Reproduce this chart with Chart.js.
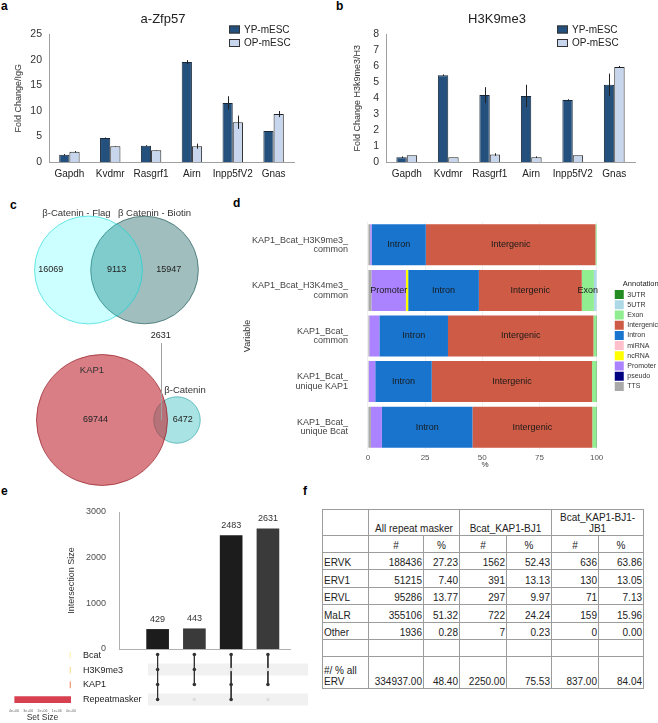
<!DOCTYPE html>
<html><head><meta charset="utf-8">
<script src="https://cdn.jsdelivr.net/npm/chart.js@4.4.0/dist/chart.umd.min.js"></script>
<style>
html,body{margin:0;padding:0;background:#fff;overflow:hidden;width:658px;height:723px;}
#wrap{position:relative;width:658px;height:723px;overflow:hidden;font-family:"Liberation Sans",Arial,sans-serif;}
.pl{position:absolute;font-weight:bold;font-size:12px;line-height:12px;color:#000;}
canvas{position:absolute;}
#tbl{position:absolute;left:322px;top:509px;width:322px;border-collapse:collapse;table-layout:fixed;font:10px "Liberation Sans",Arial,sans-serif;color:#222;}
#tbl td{border:1px solid #9c9c9c;padding:0 1px 1px 1px;vertical-align:bottom;line-height:11px;overflow:hidden;white-space:pre-line;}
#tbl td.n{text-align:right;}
#tbl td.c{text-align:center;}
#tbl td.l{text-align:left;}
</style></head>
<body><div id="wrap">
<div class="pl" style="left:1px;top:0px">a</div>
<div class="pl" style="left:336px;top:0px">b</div>
<div class="pl" style="left:10px;top:199px">c</div>
<div class="pl" style="left:233px;top:197px">d</div>
<div class="pl" style="left:1px;top:485px">e</div>
<div class="pl" style="left:303px;top:485px">f</div>
<table id="tbl"></table>
</div>
<script>
// ---------- DATA ----------
const genes = ['Gapdh','Kvdmr','Rasgrf1','Airn','Inpp5fV2','Gnas'];
const zfpYP = [1.4, 4.7, 3.2, 19.6, 11.6, 6.1];
const zfpOP = [2.0, 3.1, 2.3, 3.1, 7.8, 9.4];
const zfpYPErr = [0.15, 0.1, 0.1, 0.4, 1.3, 0.0];
const zfpOPErr = [0.15, 0.05, 0.05, 0.5, 1.3, 0.6];
const k9YP = [0.3, 5.45, 4.2, 4.15, 3.9, 4.85];
const k9OP = [0.42, 0.3, 0.47, 0.3, 0.42, 5.97];
const k9YPErr = [0.05, 0.05, 0.5, 0.7, 0.04, 0.7];
const k9OPErr = [0.0, 0.0, 0.08, 0.05, 0.0, 0.06];

const vennTopSets = ['β-Catenin - Flag', 'β Catenin - Biotin'];
const vennTopOnly = [16069, 15947];
const vennTopBoth = 9113;
const vennBotSets = ['KAP1', 'β-Catenin'];
const vennBotOnly = [69744, 6472];
const vennBotBoth = 2631;

const annoRows = [['KAP1_Bcat_H3K9me3_','common'],['KAP1_Bcat_H3K4me3_','common'],['KAP1_Bcat_','common'],['KAP1_Bcat_','unique KAP1'],['KAP1_Bcat_','unique Bcat']];
const annoClasses = ['3UTR','5UTR','Exon','Intergenic','Intron','miRNA','ncRNA','Promoter','pseudo','TTS'];
const pctTTS        = [1.0, 1.5, 0.6, 0.4, 1.3];
const pctPseudo     = [0, 0, 0, 0, 0];
const pctPromoter   = [0.7, 15.1, 4.4, 2.8, 4.8];
const pctNcRNA      = [0, 1.0, 0, 0, 0];
const pctMiRNA      = [0, 0, 0, 0, 0];
const pctIntron     = [23.6, 30.9, 30.0, 24.7, 39.6];
const pctIntergenic = [74.2, 45.0, 63.6, 70.1, 52.4];
const pctExon       = [0.5, 5.3, 1.2, 1.8, 1.7];
const pct5UTR       = [0, 1.2, 0, 0, 0];
const pct3UTR       = [0, 0, 0.2, 0.2, 0.2];
const annoTicks = [0, 25, 50, 75, 100];

const setNames = ['Bcat','H3K9me3','KAP1','Repeatmasker'];
const setSizes = [9103, 30000, 72375, 3950000];
const interSizes = [429, 443, 2483, 2631];
const inBcat    = [1,1,1,1];
const inH3K9me3 = [1,1,0,0];
const inKAP1    = [1,1,1,1];
const inRepeat  = [1,0,1,0];
const upsetTicks = [0, 1000, 2000, 3000];
const setSizeTicks = [0, 1e6, 2e6, 3e6, 4e6];

const tableGroups = ['All repeat masker','Bcat_KAP1-BJ1','Bcat_KAP1-BJ1-\nJB1'];
const repFamilies = ['ERVK','ERV1','ERVL','MaLR','Other'];
const allCount = [188436, 51215, 95286, 355106, 1936];
const allPct   = [27.23, 7.40, 13.77, 51.32, 0.28];
const bj1Count = [1562, 391, 297, 722, 7];
const bj1Pct   = [52.43, 13.13, 9.97, 24.24, 0.23];
const jb1Count = [636, 130, 71, 159, 0];
const jb1Pct   = [63.86, 13.05, 7.13, 15.96, 0.00];
const ervLabel = '#/ % all\nERV';
const ervTotal = [334937, 2250, 837];
const ervPct   = [48.40, 75.53, 84.04];

// ---------- SETUP ----------
const FONT = '"Liberation Sans", Arial, sans-serif';
Chart.defaults.font.family = FONT;
Chart.defaults.color = '#333';
Chart.defaults.animation = false;
Chart.defaults.responsive = false;
Chart.defaults.events = [];
Chart.defaults.plugins.legend.display = false;
Chart.defaults.plugins.tooltip.enabled = false;

function mkCanvas(left, top, w, h) {
  const c = document.createElement('canvas');
  c.width = w; c.height = h;
  c.style.left = left + 'px'; c.style.top = top + 'px';
  c.style.width = w + 'px'; c.style.height = h + 'px';
  document.getElementById('wrap').appendChild(c);
  return c;
}
const plain = v => String(v);

const errorBarPlugin = {
  id: 'errorBars',
  afterDatasetsDraw(chart) {
    const ctx = chart.ctx, ys = chart.scales.y;
    chart.data.datasets.forEach((ds, di) => {
      if (!ds.errors) return;
      chart.getDatasetMeta(di).data.forEach((el, i) => {
        const v = ds.data[i], e = ds.errors[i];
        if (!e) return;
        const x = Math.round(el.x) + 0.5;
        ctx.save(); ctx.strokeStyle = '#222'; ctx.lineWidth = 1;
        ctx.beginPath(); ctx.moveTo(x, ys.getPixelForValue(v + e)); ctx.lineTo(x, ys.getPixelForValue(v - e)); ctx.stroke();
        ctx.restore();
      });
    });
  }
};

const boxLegendPlugin = {
  id: 'boxLegend',
  afterDraw(chart, args, opts) {
    if (!opts || opts.x == null) return;
    const ctx = chart.ctx;
    chart.data.datasets.forEach((ds, i) => {
      const x = opts.x, y = opts.y + i * opts.gap;
      ctx.save();
      ctx.fillStyle = ds.backgroundColor; ctx.fillRect(x, y, 11, 8);
      ctx.strokeStyle = '#333'; ctx.lineWidth = 1; ctx.strokeRect(x + 0.5, y + 0.5, 10, 7);
      ctx.fillStyle = '#222'; ctx.font = '10px ' + FONT; ctx.textBaseline = 'middle';
      ctx.fillText(ds.label, x + 15, y + 4.5);
      ctx.restore();
    });
  }
};

function groupChart(canvas, o) {
  return new Chart(canvas, {
    type: 'bar',
    data: { labels: genes, datasets: [
      { label: 'YP-mESC', data: o.yp, errors: o.ypErr, backgroundColor: '#24507d', borderColor: '#17283a', borderWidth: 1 },
      { label: 'OP-mESC', data: o.op, errors: o.opErr, backgroundColor: '#c7d6ec', borderColor: '#222', borderWidth: 1 }
    ]},
    options: {
      layout: { padding: 0 },
      datasets: { bar: { categoryPercentage: 0.5, barPercentage: 1.0 } },
      plugins: {
        title: { display: true, text: o.title, font: { size: 13, weight: 'normal' }, color: '#222', padding: { top: 12, bottom: 7 } },
        boxLegend: o.legend
      },
      scales: {
        x: { grid: { display: false, drawTicks: false }, border: { color: '#a0a0a0' },
             ticks: { font: { size: 10 }, color: '#222', padding: 6, maxRotation: 0, autoSkip: false },
             afterFit: s => { s.height = 20; } },
        y: { min: 0, max: o.max, ticks: { stepSize: o.step, font: { size: 10.5 }, color: '#333', padding: 7, callback: plain },
             grid: { display: false, drawTicks: false }, border: { color: '#a0a0a0' },
             title: { display: true, text: o.yTitle, font: { size: 9 }, color: '#333', padding: { top: o.ytPad, bottom: 0 } },
             afterFit: s => { s.width = o.yw; } },
        yR: { position: 'right', grid: { display: false, drawTicks: false }, border: { display: false },
              ticks: { display: false }, afterFit: s => { s.width = o.rw; } }
      }
    },
    plugins: [errorBarPlugin, boxLegendPlugin]
  });
}

// ---------- PANEL a ----------
groupChart(mkCanvas(0, 0, 326, 182), {
  yp: zfpYP, op: zfpOP, ypErr: zfpYPErr, opErr: zfpOPErr, title: 'a-Zfp57', yTitle: 'Fold Change/IgG',
  max: 25, step: 5, yw: 49, rw: 32, ytPad: 13.6, legend: { x: 229, y: 25.5, gap: 13.5 }
});
// ---------- PANEL b ----------
groupChart(mkCanvas(336, 0, 322, 182), {
  yp: k9YP, op: k9OP, ypErr: k9YPErr, opErr: k9OPErr, title: 'H3K9me3', yTitle: 'Fold Change H3k9me3/H3',
  max: 8, step: 1, yw: 50, rw: 23, ytPad: 16.6, legend: { x: 221, y: 25.5, gap: 13.5 }
});

// ---------- PANEL c (Venn) ----------
function vennLayout(sets, only, both, L) {
  const r1 = L.k * Math.sqrt(only[0] + both), r2 = L.k * Math.sqrt(only[1] + both);
  const d = L.sep * (r1 + r2);
  return { sets, only, both, r1, r2, x1: L.cx - d / 2, x2: L.cx + d / 2, cy: L.cy, L };
}
const vTop = vennLayout(vennTopSets, vennTopOnly, vennTopBoth, { cx: 116.5, cy: 75, k: 0.34, sep: 0.52,
  fills: ['rgba(0,255,255,0.2)', 'rgba(47,110,110,0.45)'], borders: ['rgba(0,210,210,0.55)', 'rgba(40,95,95,0.7)'] });
const vBot = vennLayout(vennBotSets, vennBotOnly, vennBotBoth, { cx: 139.5, cy: 225, k: 0.2435, sep: 0.845,
  fills: ['rgba(190,40,50,0.6)', 'rgba(64,192,192,0.45)'], borders: ['rgba(150,30,40,0.7)', 'rgba(60,170,170,0.7)'] });

function vennDatasets(v) {
  return [
    { data: [{ x: v.x1, y: v.cy, r: v.r1 }], backgroundColor: v.L.fills[0], borderColor: v.L.borders[0], borderWidth: 1, clip: false },
    { data: [{ x: v.x2, y: v.cy, r: v.r2 }], backgroundColor: v.L.fills[1], borderColor: v.L.borders[1], borderWidth: 1, clip: false }
  ];
}
const vennTextPlugin = {
  id: 'vennText',
  afterDatasetsDraw(chart) {
    const ctx = chart.ctx, xs = chart.scales.x, ys = chart.scales.y;
    const px = v => xs.getPixelForValue(v), py = v => ys.getPixelForValue(v);
    function txt(t, x, y, size, color) {
      ctx.save(); ctx.font = size + 'px ' + FONT; ctx.fillStyle = color; ctx.textAlign = 'center'; ctx.textBaseline = 'middle';
      ctx.fillText(t, px(x), py(y)); ctx.restore();
    }
    const ovTop = ((vTop.x2 - vTop.r2) + (vTop.x1 + vTop.r1)) / 2;
    txt(vTop.sets[0], vTop.x1 - 12, vTop.cy - vTop.r1 - 3, 9.5, '#333');
    txt(vTop.sets[1], vTop.x2 + 10, vTop.cy - vTop.r2 - 3, 9.5, '#333');
    txt(String(vTop.only[0]), vTop.x1 - 0.7 * vTop.r1, vTop.cy, 9, '#222');
    txt(String(vTop.both), ovTop, vTop.cy, 9, '#222');
    txt(String(vTop.only[1]), vTop.x2 + 0.45 * vTop.r2, vTop.cy, 9, '#222');

    const ovBot = ((vBot.x2 - vBot.r2) + (vBot.x1 + vBot.r1)) / 2;
    txt(vBot.sets[0], vBot.x1 - 10, vBot.cy - vBot.r1 + 16, 9.5, '#333');
    txt(vBot.sets[1], vBot.x2 + 8, vBot.cy - vBot.r2 - 6, 9.5, '#333');
    txt(String(vBot.only[0]), vBot.x1 - 0.1 * vBot.r1, vBot.cy, 9, '#222');
    txt(String(vBot.only[1]), vBot.x2 + 0.25 * vBot.r2, vBot.cy, 9, '#222');
    txt(String(vBot.both), ovBot, vBot.cy - 84, 9, '#222');
    ctx.save(); ctx.strokeStyle = '#a0a0a0'; ctx.lineWidth = 1;
    ctx.beginPath(); ctx.moveTo(Math.round(px(ovBot)) + 0.5, py(vBot.cy - 77)); ctx.lineTo(Math.round(px(ovBot)) + 0.5, py(vBot.cy)); ctx.stroke();
    ctx.restore();
  }
};
new Chart(mkCanvas(0, 195, 220, 300), {
  type: 'bubble',
  data: { datasets: [...vennDatasets(vTop), ...vennDatasets(vBot)] },
  options: {
    layout: { padding: 0, autoPadding: false },
    elements: { point: { hoverRadius: 0 } },
    scales: {
      x: { type: 'linear', min: 0, max: 220, display: false, offset: false },
      y: { type: 'linear', min: 0, max: 300, reverse: true, display: false, offset: false }
    }
  },
  plugins: [vennTextPlugin]
});

// ---------- PANEL d ----------
const annoColors = { '3UTR': '#228b22', '5UTR': '#add8e6', 'Exon': '#90ee90', 'Intergenic': '#cd5b45', 'Intron': '#1874cd',
  'miRNA': '#ffc0cb', 'ncRNA': '#ffff00', 'Promoter': '#ab82ff', 'pseudo': '#000080', 'TTS': '#a9a9a9' };
const annoData = { 'TTS': pctTTS, 'pseudo': pctPseudo, 'Promoter': pctPromoter, 'ncRNA': pctNcRNA, 'miRNA': pctMiRNA,
  'Intron': pctIntron, 'Intergenic': pctIntergenic, 'Exon': pctExon, '5UTR': pct5UTR, '3UTR': pct3UTR };
const stackOrder = annoClasses.slice().reverse();
const segLabelMin = 5;
const segLabelPlugin = {
  id: 'segLabels',
  afterDatasetsDraw(chart) {
    const ctx = chart.ctx;
    ctx.save(); ctx.font = '9px ' + FONT; ctx.fillStyle = '#1a1a1a'; ctx.textAlign = 'center'; ctx.textBaseline = 'middle';
    chart.data.datasets.forEach((ds, di) => {
      chart.getDatasetMeta(di).data.forEach((el, i) => {
        if (ds.data[i] >= segLabelMin) ctx.fillText(ds.label, (el.x + el.base) / 2, el.y);
      });
    });
    ctx.restore();
  }
};
new Chart(mkCanvas(220, 200, 448, 275), {
  type: 'bar',
  data: { labels: annoRows, datasets: stackOrder.map(n => ({ label: n, data: annoData[n], backgroundColor: annoColors[n],
    borderWidth: 0, barPercentage: 0.9, categoryPercentage: 1 })) },
  options: {
    indexAxis: 'y',
    layout: { padding: { top: 22 } },
    plugins: {
      legend: { display: true, position: 'right', align: 'center', fullSize: false,
        labels: { boxWidth: 9, boxHeight: 9, padding: 1.2, font: { size: 7 }, color: '#333',
          sort: (a, b) => annoClasses.indexOf(a.text) - annoClasses.indexOf(b.text) },
        title: { display: true, text: 'Annotation', font: { size: 7.5 }, color: '#222', padding: 0 } }
    },
    scales: {
      x: { stacked: true, min: -5, max: 107.4,
           afterBuildTicks: a => { a.ticks = annoTicks.map(v => ({ value: v })); },
           grid: { color: '#f0f0f0', drawTicks: false }, border: { display: false },
           ticks: { font: { size: 8 }, color: '#555', padding: 3 },
           title: { display: true, text: '%', font: { size: 8 }, color: '#333', padding: { top: 0, bottom: 5 } },
           afterFit: s => { s.height = 25; } },
      y: { stacked: true, grid: { display: false, drawTicks: false }, border: { display: false },
           ticks: { font: { size: 9, lineHeight: 1.05 }, color: '#444', padding: 8.5, autoSkip: false },
           title: { display: true, text: 'Variable', font: { size: 9 }, color: '#333', padding: { top: 22, bottom: 0 } },
           afterFit: s => { s.width = 136.5; } }
    }
  },
  plugins: [segLabelPlugin]
});

// ---------- PANEL e (UpSet) ----------
const barLabelPlugin = {
  id: 'barLabels',
  afterDatasetsDraw(chart) {
    const ctx = chart.ctx;
    ctx.save(); ctx.font = '9px ' + FONT; ctx.fillStyle = '#333'; ctx.textAlign = 'center'; ctx.textBaseline = 'middle';
    chart.getDatasetMeta(0).data.forEach((el, i) => ctx.fillText(String(interSizes[i]), el.x, el.y - 10));
    ctx.restore();
  }
};
new Chart(mkCanvas(60, 495, 240, 160), {
  type: 'bar',
  data: { datasets: [{ data: interSizes.map((v, i) => ({ x: i, y: v })), backgroundColor: ['#1c1c1c', '#3a3a3a', '#1c1c1c', '#3a3a3a'],
    barThickness: 22 }] },
  options: {
    layout: { padding: { top: 17, right: 10, bottom: 6 }, autoPadding: false },
    scales: {
      x: { type: 'linear', offset: false, min: -1.05, max: 3.6, grid: { display: false, drawTicks: false }, ticks: { display: false },
           border: { display: true, color: '#b0b0b0' }, afterFit: s => { s.height = 0; } },
      y: { min: 0, max: 3000, afterBuildTicks: a => { a.ticks = upsetTicks.map(v => ({ value: v })); },
           grid: { display: false, drawTicks: true, tickLength: 13 }, border: { color: '#b0b0b0' },
           ticks: { font: { size: 9, lineHeight: 0.2 }, color: '#4d4d4d', padding: 0, callback: plain },
           title: { display: true, text: 'Intersection Size', font: { size: 9 }, color: '#333', padding: { top: 6.6, bottom: 0 } },
           afterFit: s => { s.width = 59; } }
    }
  },
  plugins: [barLabelPlugin]
});

const memberRows = [inBcat, inH3K9me3, inKAP1, inRepeat];
const filledDots = [], emptyDots = [];
interSizes.forEach((_, i) => memberRows.forEach((row, s) => (row[i] ? filledDots : emptyDots).push({ x: i, y: s })));
const lineSets = interSizes.map((_, i) => {
  const idx = memberRows.map((r, s) => r[i] ? s : -1).filter(s => s >= 0);
  return { data: [{ x: i, y: Math.min(...idx) }, { x: i, y: Math.max(...idx) }], showLine: true, borderColor: '#333',
    borderWidth: 1, pointRadius: 0 };
});
const stripeRows = [1, 3];
const stripePlugin = {
  id: 'stripes',
  beforeDatasetsDraw(chart) {
    const ctx = chart.ctx, a = chart.chartArea, ys = chart.scales.y;
    ctx.save(); ctx.fillStyle = '#f1f1f1';
    stripeRows.forEach(s => { const yc = ys.getPixelForValue(s); ctx.fillRect(a.left, yc - 6, a.right - a.left, 12); });
    ctx.restore();
  }
};
new Chart(mkCanvas(148, 647, 160, 60), {
  type: 'scatter',
  data: { datasets: [
    { data: emptyDots, pointRadius: 1.8, backgroundColor: '#dedede', borderWidth: 0, clip: false },
    ...lineSets,
    { data: filledDots, pointRadius: 1.8, backgroundColor: '#333', borderWidth: 0, clip: false }
  ] },
  options: {
    layout: { padding: 0, autoPadding: false },
    scales: {
      x: { type: 'linear', min: -0.261, max: 4.09, display: false },
      y: { type: 'linear', min: -0.5, max: 3.5, reverse: true, display: false }
    }
  },
  plugins: [stripePlugin]
});

const setColors = ['#fff3bf', '#fde3a2', '#f4a37f', '#d6404f'];
new Chart(mkCanvas(0, 647, 148, 76), {
  type: 'bar',
  data: { labels: setNames, datasets: [{ data: setSizes, backgroundColor: setColors, barThickness: 6, minBarLength: 1 }] },
  options: {
    indexAxis: 'y',
    layout: { padding: { left: 14 }, autoPadding: false },
    scales: {
      x: { reverse: true, min: 0, max: 4e6, afterBuildTicks: a => { a.ticks = setSizeTicks.map(v => ({ value: v })); },
           ticks: { font: { size: 3.5 }, color: '#666', padding: 2, maxRotation: 0, minRotation: 0, autoSkip: false,
             callback: v => v === 0 ? '0e+00' : (v / 1e6) + 'e+06' },
           grid: { display: false, drawTicks: false }, border: { display: false },
           title: { display: true, text: 'Set Size', font: { size: 8.5 }, color: '#333', padding: { top: 0, bottom: 0 } },
           afterFit: s => { s.height = 16; } },
      y: { position: 'right', grid: { display: false, drawTicks: true, tickLength: 12 }, border: { display: false },
           ticks: { font: { size: 9, lineHeight: 0.2 }, color: '#222', padding: 0, crossAlign: 'near' },
           afterFit: s => { s.width = 77; } }
    }
  }
});

// ---------- PANEL f (table) ----------
(function buildTable() {
  const colW = [46, 55, 36, 47, 45, 47, 45];
  const rowH = [26, 17, 17, 18, 17, 18, 17, 17, 32];
  let h = '<colgroup>' + colW.map(w => '<col style="width:' + w + 'px">').join('') + '</colgroup>';
  let r = 0;
  h += '<tr style="height:' + rowH[r++] + 'px"><td></td>' + tableGroups.map(g => '<td class="c" colspan="2">' + g + '</td>').join('') + '</tr>';
  h += '<tr style="height:' + rowH[r++] + 'px"><td></td>' + tableGroups.map(() => '<td class="c">#</td><td class="c">%</td>').join('') + '</tr>';
  repFamilies.forEach((f, i) => {
    h += '<tr style="height:' + rowH[r++] + 'px"><td class="l">' + f + '</td>' +
      [[allCount, allPct], [bj1Count, bj1Pct], [jb1Count, jb1Pct]].map(([c, p]) =>
        '<td class="n">' + c[i] + '</td><td class="n">' + p[i].toFixed(2) + '</td>').join('') + '</tr>';
  });
  h += '<tr style="height:' + rowH[r++] + 'px">' + '<td></td>'.repeat(7) + '</tr>';
  h += '<tr style="height:' + rowH[r++] + 'px"><td class="l">' + ervLabel + '</td>' +
    ervTotal.map((t, i) => '<td class="n">' + t.toFixed(2) + '</td><td class="n">' + ervPct[i].toFixed(2) + '</td>').join('') + '</tr>';
  document.getElementById('tbl').innerHTML = h;
})();
</script>
</body></html>
